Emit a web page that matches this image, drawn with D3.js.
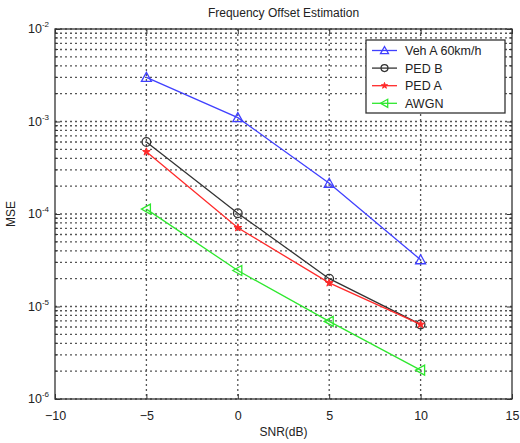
<!DOCTYPE html>
<html><head><meta charset="utf-8">
<script src="https://cdn.jsdelivr.net/npm/d3@7"></script>
<style>body{margin:0;background:#fff;} text{font-family:"Liberation Sans",Arial,sans-serif;fill:#222;}</style>
</head><body><svg id="c" width="520" height="443"></svg>
<script>
const snr = [-5, 0, 5, 10];
const vehA = [3.0e-3, 1.1e-3, 2.15e-4, 3.2e-5];
const pedB = [6.0e-4, 1.02e-4, 2.0e-5, 6.4e-6];
const pedA = [4.7e-4, 7.1e-5, 1.8e-5, 6.4e-6];
const awgn = [1.13e-4, 2.45e-5, 6.9e-6, 2.05e-6];
const seriesNames = ["Veh A 60km/h", "PED B", "PED A", "AWGN"];
const xTicks = [-10, -5, 0, 5, 10, 15];
const yExps = [-2, -3, -4, -5, -6];

const svg = d3.select("#c");
const L = 55, R = 512, T = 29, B = 399;
const x = d3.scaleLinear().domain([-10, 15]).range([L, R]);
const y = d3.scaleLog().domain([1e-6, 1e-2]).range([B, T]);

const series = [
  {name: seriesNames[0], vals: vehA, color: "#4040ff", marker: "triUp"},
  {name: seriesNames[1], vals: pedB, color: "#333333", marker: "circle"},
  {name: seriesNames[2], vals: pedA, color: "#ff2a2a", marker: "star"},
  {name: seriesNames[3], vals: awgn, color: "#2ee82e", marker: "triLeft"}
];

// grid
const g = svg.append("g");
const minor = [];
for (let e = -6; e < -2; e++) for (let m = 2; m <= 9; m++) minor.push(m * Math.pow(10, e));
const majorY = yExps.map(e => Math.pow(10, e));
g.selectAll(".gy").data(minor.concat(majorY)).enter().append("line")
  .attr("x1", L).attr("x2", R).attr("y1", d => y(d)).attr("y2", d => y(d))
  .attr("stroke", "#555").attr("stroke-width", 1.3).attr("stroke-dasharray", "2,3");
g.selectAll(".gx").data(xTicks.slice(1, -1)).enter().append("line")
  .attr("y1", T).attr("y2", B).attr("x1", d => x(d)).attr("x2", d => x(d))
  .attr("stroke", "#555").attr("stroke-width", 1.3).attr("stroke-dasharray", "2,3");

// axes box
svg.append("rect").attr("x", L).attr("y", T).attr("width", R - L).attr("height", B - T)
  .attr("fill", "none").attr("stroke", "#333").attr("stroke-width", 1.3);

// ticks (inside)
const xa = svg.append("g").attr("transform", `translate(0,${B})`)
  .call(d3.axisBottom(x).tickValues(xTicks).tickSizeInner(-5).tickSizeOuter(0).tickPadding(12));
xa.select(".domain").remove();
xa.selectAll("line").attr("stroke", "#333");
xa.selectAll("text").style("font-size", "12.5px").attr("fill", "#222");
const xt = svg.append("g").attr("transform", `translate(0,${T})`)
  .call(d3.axisTop(x).tickValues(xTicks).tickSizeInner(-5).tickSizeOuter(0).tickFormat(""));
xt.select(".domain").remove(); xt.selectAll("line").attr("stroke", "#333");

const ya = svg.append("g").attr("transform", `translate(${L},0)`)
  .call(d3.axisLeft(y).tickValues(majorY).tickSizeInner(-5).tickSizeOuter(0).tickFormat(""));
ya.select(".domain").remove(); ya.selectAll("line").attr("stroke", "#333");
const yr = svg.append("g").attr("transform", `translate(${R},0)`)
  .call(d3.axisRight(y).tickValues(majorY).tickSizeInner(-5).tickSizeOuter(0).tickFormat(""));
yr.select(".domain").remove(); yr.selectAll("line").attr("stroke", "#333");
[[L, 3], [R, -3]].forEach(([px, s]) => {
  svg.append("g").selectAll("line").data(minor).enter().append("line")
    .attr("x1", px).attr("x2", px + s).attr("y1", d => y(d)).attr("y2", d => y(d)).attr("stroke", "#333");
});

// y tick labels 10^e
yExps.forEach(e => {
  const t = svg.append("text").attr("x", L - 6).attr("y", y(Math.pow(10, e)) + 4)
    .attr("text-anchor", "end").style("font-size", "12.5px");
  t.append("tspan").text("10");
  t.append("tspan").attr("dy", -6).style("font-size", "8px").text(String(e));
});

// title, labels
svg.append("text").attr("x", (L + R) / 2).attr("y", 17).attr("text-anchor", "middle")
  .style("font-size", "12px").text("Frequency Offset Estimation");
svg.append("text").attr("x", (L + R) / 2).attr("y", 436).attr("text-anchor", "middle")
  .style("font-size", "12px").text("SNR(dB)");
svg.append("text").attr("transform", `translate(15,${(T + B) / 2}) rotate(-90)`)
  .attr("text-anchor", "middle").style("font-size", "12px").text("MSE");

function drawMarker(sel, type, color, cx, cy, k) {
  k = k || 1;
  if (type === "triUp") {
    sel.append("path").attr("d", `M${cx},${cy - 5 * k}L${cx + 5 * k},${cy + 4 * k}L${cx - 5 * k},${cy + 4 * k}Z`)
      .attr("fill", "none").attr("stroke", color).attr("stroke-width", 1.3);
  } else if (type === "triLeft") {
    sel.append("path").attr("d", `M${cx - 5 * k},${cy}L${cx + 4 * k},${cy - 5 * k}L${cx + 4 * k},${cy + 5 * k}Z`)
      .attr("fill", "none").attr("stroke", color).attr("stroke-width", 1.3);
  } else if (type === "circle") {
    sel.append("circle").attr("cx", cx).attr("cy", cy).attr("r", 4.3 * k)
      .attr("fill", "none").attr("stroke", color).attr("stroke-width", 1.3);
  } else {
    sel.append("path").attr("d", d3.symbol().type(d3.symbolStar).size(18 * k * k)())
      .attr("transform", `translate(${cx},${cy})`).attr("fill", color).attr("stroke", color);
  }
}

const line = d3.line().x(d => x(d[0])).y(d => y(d[1]));
series.forEach(s => {
  const pts = snr.map((v, i) => [v, s.vals[i]]);
  svg.append("path").attr("d", line(pts)).attr("fill", "none")
    .attr("stroke", s.color).attr("stroke-width", 1.3);
  const mg = svg.append("g");
  pts.forEach(p => drawMarker(mg, s.marker, s.color, x(p[0]), y(p[1])));
});

// legend
const lg = svg.append("g");
lg.append("rect").attr("x", 366).attr("y", 40).attr("width", 139).attr("height", 73)
  .attr("fill", "#fff").attr("stroke", "#333").attr("stroke-width", 1.3);
series.forEach((s, i) => {
  const ly = 50.5 + i * 17.6;
  lg.append("line").attr("x1", 372).attr("x2", 397).attr("y1", ly).attr("y2", ly)
    .attr("stroke", s.color).attr("stroke-width", 1.3);
  drawMarker(lg, s.marker, s.color, 384.5, ly, 0.8);
  lg.append("text").attr("x", 405).attr("y", ly + 4.5).style("font-size", "12.5px").text(s.name);
});
</script></body></html>
